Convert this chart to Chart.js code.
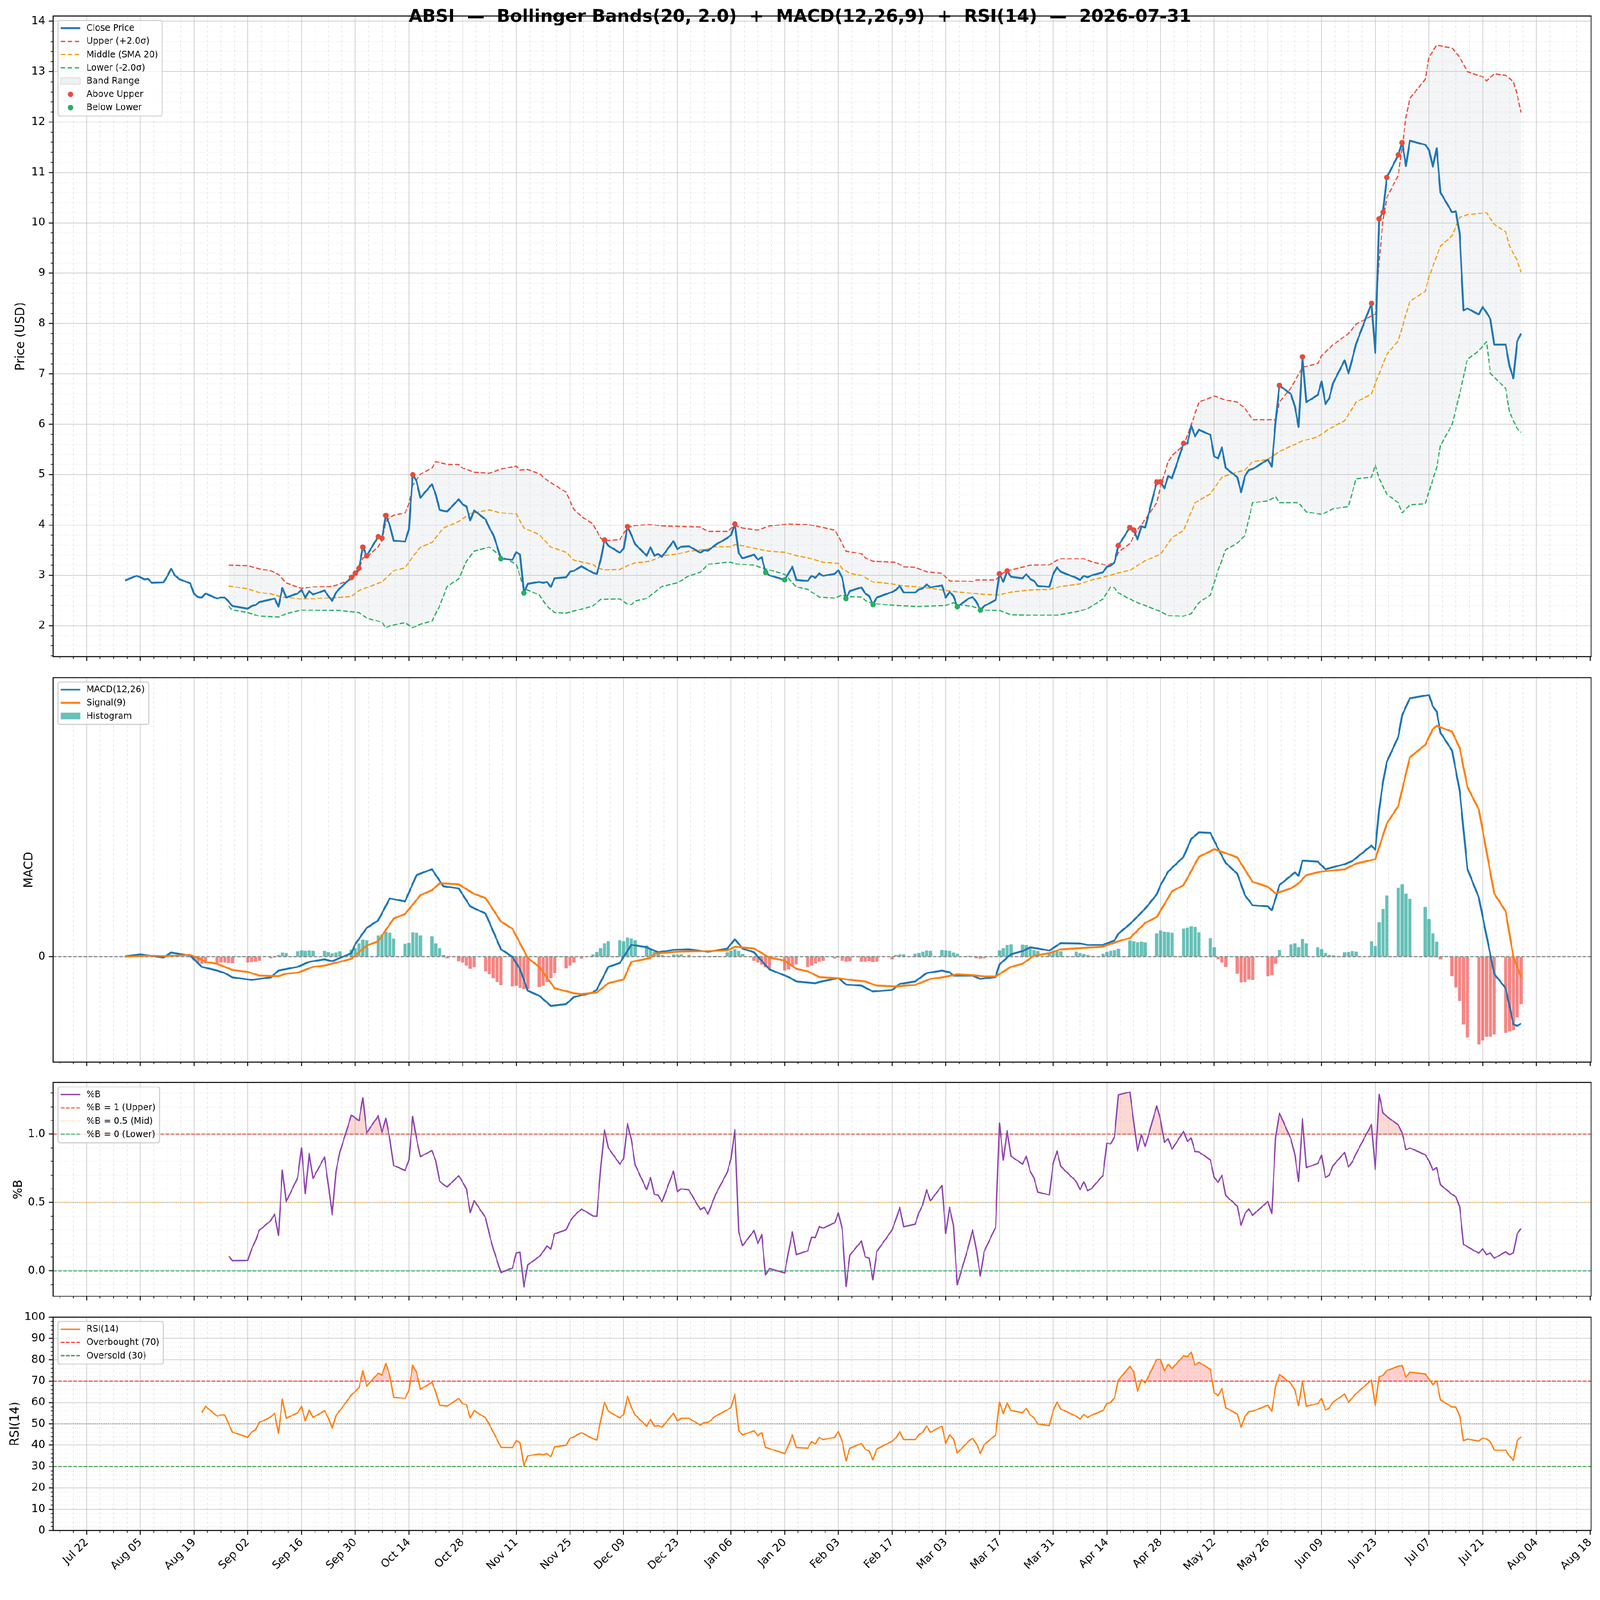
<!DOCTYPE html>
<html lang="en">
<head>
<meta charset="utf-8">
<title>ABSI - Bollinger Bands + MACD + RSI</title>
<script src="https://cdn.jsdelivr.net/npm/chart.js@4.4.1/dist/chart.umd.min.js"></script>
<style>
  html, body { margin: 0; padding: 0; background: #fff; overflow: hidden; }
  #page { position: relative; width: 4378px; height: 4322px; overflow: hidden; background: #fff; transform-origin: 0 0; }
  #page canvas { position: absolute; left: 0; }
</style>
</head>
<body>
<div id="page">
  <canvas id="priceChart" width="4378" height="1817" style="top:0px"></canvas>
  <canvas id="macdChart" width="4378" height="1109" style="top:1817px"></canvas>
  <canvas id="pctbChart" width="4378" height="641" style="top:2926px"></canvas>
  <canvas id="rsiChart" width="4378" height="755" style="top:3567px"></canvas>
</div>
<script>
// ---- data ----
const TITLE = "ABSI  \u2014  Bollinger Bands(20, 2.0)  +  MACD(12,26,9)  +  RSI(14)  \u2014  2026-07-31";

const MARKET_HOLIDAYS = ["2025-09-01", "2025-11-27", "2025-12-25", "2026-01-01", "2026-01-19",
  "2026-02-16", "2026-04-03", "2026-05-25", "2026-06-19", "2026-07-03"];

// daily closes, one per trading day from 2025-08-01 to 2026-07-31
const closePrices = [
  2.90, 2.99, 2.96, 2.92, 2.93, 2.85, 2.86, 2.98, 3.13, 3.00, 2.93, 2.84, 2.63, 2.57, 2.56, 2.64, 2.54, 2.56, 2.56, 2.48, 2.39, // Aug
  2.34, 2.39, 2.41, 2.47, 2.52, 2.54, 2.38, 2.75, 2.56, 2.64, 2.71, 2.56, 2.69, 2.62, 2.70, 2.59, 2.49, 2.66, 2.74, 2.96, 3.04, // Sep
  3.14, 3.56, 3.39, 3.77, 3.74, 4.19, 4.00, 3.69, 3.67, 3.91, 5.00, 4.87, 4.54, 4.81, 4.61, 4.30, 4.28, 4.27, 4.51, 4.41, 4.37, 4.09, 4.29, // Oct
  4.11, 3.94, 3.81, 3.58, 3.33, 3.31, 3.46, 3.41, 2.65, 2.83, 2.87, 2.85, 2.87, 2.77, 2.94, 2.96, 3.07, 3.09, 3.18, // Nov
  3.05, 3.03, 3.30, 3.70, 3.59, 3.45, 3.53, 3.97, 3.80, 3.62, 3.39, 3.56, 3.39, 3.42, 3.37, 3.68, 3.52, 3.57, 3.58, 3.45, 3.50, 3.49, // Dec
  3.61, 3.74, 3.80, 4.02, 3.44, 3.34, 3.41, 3.31, 3.36, 3.06, 3.00, 2.91, 3.04, 3.17, 2.91, 2.89, 2.99, 2.95, 3.04, 2.99, // Jan
  3.03, 3.10, 2.95, 2.54, 2.69, 2.76, 2.64, 2.59, 2.42, 2.56, 2.67, 2.71, 2.79, 2.66, 2.66, 2.72, 2.74, 2.82, 2.76, // Feb
  2.80, 2.56, 2.67, 2.59, 2.38, 2.54, 2.57, 2.47, 2.31, 2.39, 2.51, 3.03, 2.87, 3.09, 2.97, 2.94, 3.02, 2.93, 2.89, 2.79, 2.77, 3.02, // Mar
  3.16, 3.07, 2.95, 2.91, 2.99, 2.96, 3.00, 3.06, 3.17, 3.19, 3.26, 3.59, 3.95, 3.90, 3.71, 3.97, 3.95, 4.85, 4.86, 4.73, 4.97, // Apr
  4.93, 5.62, 5.62, 5.97, 5.76, 5.89, 5.79, 5.36, 5.32, 5.54, 5.13, 4.95, 4.65, 4.97, 5.09, 5.11, 5.30, 5.16, 6.05, 6.77, // May
  6.60, 6.36, 5.95, 7.34, 6.44, 6.58, 6.85, 6.40, 6.52, 6.82, 7.27, 7.01, 7.30, 7.60, 8.40, 7.42, 10.08, 10.21, 10.90, 11.35, 11.59, // Jun
  11.13, 11.63, 11.55, 11.45, 11.11, 11.48, 10.60, 10.21, 10.23, 9.78, 8.26, 8.30, 8.18, 8.33, 8.22, 8.09, 7.58, 7.58, 7.15, 6.91, 7.65, 7.80 // Jul
];

// band lines, read at their turning points ("MM-DD"; Aug-Dec = 2025, Jan-Jul = 2026)
const upperDates = ["08-28","09-02","09-05","09-08","09-10","09-12","09-16","09-19","09-24","09-26","09-29","09-30","10-01","10-02","10-03","10-06","10-07","10-08","10-09","10-10","10-13","10-14","10-15","10-17","10-20","10-21","10-24","10-27","10-28","10-31","11-04","11-07","11-11","11-12","11-14","11-17","11-19","11-24","11-26","11-28","12-01","12-03","12-04","12-08","12-10","12-12","12-16","12-19","12-29","12-31","01-05","01-07","01-09","01-13","01-16","01-21","01-26","01-30","02-02","02-03","02-05","02-09","02-10","02-12","02-18","02-20","02-23","02-26","03-02","03-04","03-10","03-11","03-16","03-17","03-18","03-19","03-20","03-25","03-30","04-01","04-02","04-08","04-10","04-14","04-16","04-17","04-20","04-22","04-24","04-27","04-28","04-30","05-01","05-04","05-06","05-08","05-12","05-15","05-18","05-20","05-22","05-28","05-29","06-01","06-04","06-08","06-09","06-12","06-16","06-18","06-23","06-24","06-25","06-26","06-29","06-30","07-01","07-02","07-06","07-07","07-09","07-13","07-15","07-17","07-21","07-22","07-24","07-27","07-29","07-30","07-31"];
const upperVals = [3.20,3.19,3.13,3.09,3.02,2.85,2.74,2.77,2.78,2.83,2.92,3.00,3.10,3.35,3.36,3.57,3.70,4.06,4.15,4.19,4.24,4.42,4.79,5.01,5.13,5.26,5.20,5.20,5.13,5.05,5.03,5.11,5.17,5.09,5.10,5.02,4.89,4.65,4.31,4.17,4.02,3.74,3.69,3.71,3.95,3.99,4.01,3.98,3.96,3.87,3.87,3.99,3.94,3.90,3.98,4.02,4.01,3.95,3.90,3.78,3.48,3.43,3.35,3.28,3.26,3.17,3.16,3.07,3.04,2.89,2.88,2.91,2.91,2.98,3.05,3.07,3.11,3.20,3.21,3.30,3.33,3.33,3.27,3.20,3.26,3.46,3.63,3.91,4.11,4.44,4.77,5.26,5.38,5.58,5.99,6.44,6.56,6.48,6.44,6.32,6.09,6.09,6.44,6.72,7.13,7.21,7.36,7.58,7.80,7.99,8.19,9.25,10.05,10.50,10.95,11.50,12.10,12.47,12.85,13.29,13.53,13.47,13.29,13.00,12.90,12.82,12.96,12.93,12.80,12.55,12.19];

const middleDates = ["08-28","09-02","09-05","09-08","09-11","09-16","09-23","09-29","10-01","10-07","10-10","10-13","10-15","10-17","10-20","10-23","10-27","10-30","11-04","11-07","11-11","11-13","11-17","11-20","11-24","11-26","12-01","12-02","12-04","12-08","12-10","12-12","12-16","12-19","12-23","12-26","12-31","01-02","01-06","01-07","01-09","01-13","01-16","01-20","01-23","01-26","01-30","02-03","02-04","02-06","02-09","02-12","02-17","02-19","02-24","02-27","03-04","03-09","03-13","03-17","03-20","03-25","03-30","04-02","04-07","04-10","04-13","04-16","04-20","04-24","04-28","05-01","05-04","05-07","05-11","05-14","05-18","05-20","05-22","05-26","05-29","06-04","06-08","06-11","06-15","06-18","06-22","06-23","06-26","06-29","07-02","07-06","07-07","07-10","07-13","07-15","07-17","07-22","07-24","07-27","07-28","07-30","07-31"];
const middleVals = [2.79,2.73,2.66,2.63,2.57,2.53,2.55,2.58,2.70,2.87,3.09,3.15,3.37,3.56,3.65,3.94,4.07,4.23,4.30,4.24,4.22,3.94,3.81,3.56,3.46,3.30,3.22,3.15,3.11,3.12,3.19,3.25,3.28,3.39,3.42,3.48,3.52,3.57,3.57,3.61,3.59,3.52,3.48,3.46,3.39,3.35,3.26,3.24,3.13,3.04,3.00,2.87,2.83,2.80,2.77,2.74,2.69,2.65,2.62,2.61,2.67,2.71,2.72,2.78,2.83,2.91,2.96,3.03,3.10,3.29,3.42,3.75,3.89,4.44,4.62,4.95,5.05,5.09,5.26,5.30,5.46,5.67,5.75,5.91,6.07,6.44,6.60,6.81,7.39,7.66,8.44,8.64,8.93,9.54,9.74,10.11,10.16,10.20,9.97,9.82,9.54,9.25,9.02];

const lowerDates = ["08-28","08-29","09-02","09-05","09-10","09-12","09-16","09-26","10-01","10-03","10-07","10-08","10-09","10-13","10-15","10-17","10-20","10-22","10-24","10-27","10-29","10-31","11-04","11-07","11-11","11-13","11-17","11-19","11-21","11-24","11-28","12-01","12-03","12-08","12-10","12-11","12-12","12-15","12-19","12-23","12-26","12-29","12-31","01-05","01-06","01-07","01-12","01-14","01-20","01-23","01-26","01-29","02-02","02-04","02-05","02-09","02-10","02-12","02-18","02-24","03-03","03-05","03-06","03-10","03-13","03-17","03-20","03-25","04-01","04-07","04-09","04-13","04-14","04-15","04-16","04-17","04-21","04-24","04-28","04-30","05-04","05-06","05-08","05-11","05-13","05-15","05-18","05-20","05-22","05-26","05-28","05-29","06-03","06-05","06-09","06-12","06-16","06-18","06-22","06-23","06-24","06-26","06-29","06-30","07-02","07-06","07-09","07-10","07-13","07-15","07-17","07-20","07-22","07-23","07-27","07-28","07-30","07-31"];
const lowerVals = [2.39,2.31,2.26,2.19,2.17,2.24,2.31,2.30,2.26,2.15,2.07,1.96,2.00,2.06,1.96,2.03,2.09,2.39,2.78,2.93,3.28,3.48,3.56,3.38,3.22,2.74,2.61,2.39,2.26,2.25,2.33,2.39,2.52,2.53,2.43,2.42,2.49,2.54,2.78,2.85,2.99,3.06,3.22,3.26,3.26,3.23,3.20,3.15,3.02,2.77,2.72,2.57,2.55,2.61,2.58,2.57,2.50,2.44,2.40,2.38,2.40,2.46,2.42,2.38,2.31,2.30,2.22,2.21,2.21,2.29,2.34,2.53,2.65,2.77,2.75,2.65,2.49,2.40,2.28,2.20,2.19,2.24,2.46,2.61,3.10,3.51,3.64,3.79,4.44,4.48,4.56,4.44,4.44,4.26,4.21,4.32,4.37,4.92,4.95,5.19,4.92,4.61,4.44,4.24,4.40,4.42,5.14,5.58,5.99,6.60,7.29,7.46,7.64,7.01,6.71,6.24,5.91,5.84];

const aboveUpperDates = ["09-29","09-30","10-01","10-02","10-03","10-06","10-07","10-08","10-15","12-04","12-10","01-07","03-17","03-19","04-17","04-20","04-21","04-27","04-28","05-04","05-29","06-04","06-22","06-24","06-25","06-26","06-29","06-30"];
const belowLowerDates = ["11-07","11-13","01-15","01-20","02-05","02-12","03-06","03-12"];

// MACD(12,26) and Signal(9), read at turning points
const macdDates = ["08-01","08-05","08-11","08-13","08-18","08-21","08-25","08-27","08-29","09-03","09-08","09-10","09-15","09-18","09-22","09-24","09-29","09-30","10-03","10-06","10-09","10-13","10-16","10-20","10-23","10-27","10-30","11-03","11-07","11-10","11-12","11-14","11-17","11-20","11-24","11-26","12-01","12-02","12-05","12-08","12-11","12-15","12-18","12-22","12-26","12-31","01-05","01-07","01-09","01-12","01-16","01-21","01-23","01-28","01-29","02-03","02-05","02-09","02-12","02-17","02-19","02-23","02-26","03-02","03-04","03-05","03-10","03-12","03-16","03-17","03-20","03-23","03-25","03-27","03-30","04-02","04-07","04-09","04-13","04-16","04-17","04-20","04-22","04-24","04-27","04-28","04-30","05-04","05-06","05-08","05-11","05-13","05-15","05-18","05-20","05-22","05-26","05-27","05-28","05-29","06-02","06-03","06-04","06-08","06-10","06-15","06-17","06-22","06-23","06-24","06-25","06-26","06-29","06-30","07-02","07-07","07-08","07-09","07-10","07-13","07-15","07-17","07-20","07-24","07-27","07-29","07-30","07-31"];
const macdVals = [0.003,0.013,-0.004,0.022,0.006,-0.052,-0.071,-0.084,-0.106,-0.119,-0.106,-0.071,-0.052,-0.026,-0.013,-0.023,0.019,0.065,0.149,0.188,0.301,0.286,0.422,0.452,0.364,0.353,0.260,0.223,0.039,0.000,-0.065,-0.175,-0.201,-0.253,-0.244,-0.208,-0.184,-0.169,-0.052,-0.032,0.062,0.049,0.023,0.036,0.039,0.026,0.042,0.091,0.043,0.023,-0.065,-0.104,-0.127,-0.136,-0.130,-0.110,-0.143,-0.149,-0.179,-0.171,-0.140,-0.127,-0.084,-0.071,-0.080,-0.097,-0.097,-0.114,-0.104,-0.039,0.013,0.029,0.049,0.043,0.032,0.071,0.069,0.061,0.062,0.084,0.119,0.169,0.208,0.249,0.322,0.370,0.440,0.516,0.608,0.642,0.639,0.558,0.484,0.429,0.318,0.266,0.260,0.240,0.300,0.370,0.435,0.418,0.496,0.491,0.452,0.478,0.494,0.574,0.552,0.760,0.900,1.006,1.136,1.247,1.334,1.351,1.292,1.266,1.156,1.065,0.857,0.455,0.305,-0.088,-0.162,-0.348,-0.357,-0.344];

const signalDates = ["08-01","08-07","08-12","08-18","08-20","08-22","08-25","08-29","09-02","09-05","09-10","09-12","09-15","09-19","09-22","09-26","09-29","10-03","10-06","10-10","10-13","10-17","10-20","10-22","10-27","10-31","11-03","11-07","11-10","11-14","11-17","11-21","11-26","11-28","12-02","12-05","12-09","12-11","12-16","12-17","12-23","12-29","01-05","01-07","01-12","01-16","01-20","01-23","01-26","01-29","02-03","02-06","02-10","02-13","02-18","02-23","02-27","03-02","03-06","03-10","03-13","03-16","03-20","03-23","03-26","03-30","04-02","04-07","04-13","04-17","04-20","04-24","04-27","05-01","05-04","05-08","05-12","05-15","05-18","05-22","05-26","05-28","06-01","06-03","06-05","06-09","06-15","06-18","06-23","06-26","06-29","07-02","07-06","07-08","07-09","07-13","07-15","07-17","07-20","07-24","07-27","07-29","07-31"];
const signalVals = [0.000,0.006,0.004,0.010,-0.006,-0.026,-0.036,-0.068,-0.078,-0.097,-0.100,-0.087,-0.082,-0.052,-0.045,-0.026,-0.010,0.058,0.080,0.197,0.221,0.318,0.344,0.379,0.374,0.325,0.303,0.182,0.145,-0.006,-0.052,-0.162,-0.188,-0.192,-0.184,-0.136,-0.117,-0.026,-0.006,0.016,0.026,0.029,0.032,0.052,0.043,-0.004,-0.019,-0.062,-0.075,-0.104,-0.110,-0.119,-0.127,-0.149,-0.153,-0.145,-0.114,-0.106,-0.091,-0.095,-0.101,-0.101,-0.052,-0.036,0.006,0.019,0.039,0.045,0.052,0.080,0.097,0.175,0.205,0.338,0.370,0.516,0.555,0.535,0.513,0.387,0.361,0.327,0.353,0.379,0.422,0.440,0.452,0.481,0.504,0.688,0.779,1.029,1.094,1.175,1.192,1.162,1.078,0.877,0.760,0.327,0.234,0.000,-0.104];

// MACD histogram, one bar per trading day
const macdHist = [
  0.000, 0.004, 0.006, 0.004, 0.002, -0.002, -0.004, 0.006, 0.012, 0.008, 0.004, -0.004, -0.018, -0.030, -0.036, -0.034, -0.032, -0.030, -0.030, -0.032, -0.034, // Aug
  -0.030, -0.028, -0.024, -0.020, -0.008, -0.004, 0.010, 0.022, 0.020, 0.028, 0.032, 0.030, 0.032, 0.030, 0.030, 0.024, 0.018, 0.022, 0.028, 0.038, 0.045, // Sep
  0.070, 0.088, 0.085, 0.110, 0.115, 0.130, 0.125, 0.095, 0.068, 0.072, 0.127, 0.125, 0.110, 0.106, 0.070, 0.045, 0.010, -0.008, -0.022, -0.030, -0.045, -0.062, -0.055, // Oct
  -0.075, -0.090, -0.110, -0.130, -0.147, -0.153, -0.150, -0.160, -0.166, -0.165, -0.156, -0.150, -0.130, -0.110, -0.084, -0.060, -0.045, -0.030, -0.010, // Nov
  0.013, 0.025, 0.045, 0.070, 0.080, 0.085, 0.080, 0.100, 0.095, 0.085, 0.058, 0.040, 0.026, 0.015, 0.010, 0.013, 0.012, 0.013, 0.010, 0.005, 0.002, -0.002, // Dec
  0.004, 0.023, 0.030, 0.040, 0.030, 0.015, -0.020, -0.030, -0.040, -0.055, -0.062, -0.071, -0.065, -0.050, -0.039, -0.052, -0.045, -0.035, -0.026, -0.020, // Jan
  -0.009, -0.004, -0.020, -0.024, -0.022, -0.025, -0.025, -0.022, -0.028, -0.025, -0.013, 0.010, 0.013, 0.013, 0.016, 0.020, 0.026, 0.032, 0.030, // Feb
  0.036, 0.034, 0.030, 0.022, 0.016, 0.004, -0.002, -0.008, -0.010, -0.008, -0.002, 0.032, 0.045, 0.060, 0.065, 0.062, 0.060, 0.045, 0.035, 0.029, 0.020, 0.026, // Mar
  0.029, 0.028, 0.026, 0.020, 0.015, 0.010, 0.006, 0.016, 0.025, 0.030, 0.035, 0.042, 0.084, 0.080, 0.075, 0.078, 0.075, 0.120, 0.136, 0.130, 0.128, // Apr
  0.125, 0.145, 0.150, 0.158, 0.155, 0.127, 0.097, 0.049, -0.013, -0.030, -0.052, -0.088, -0.132, -0.130, -0.118, -0.120, -0.100, -0.095, -0.036, 0.036, // May
  0.065, 0.070, 0.050, 0.093, 0.070, 0.049, 0.040, 0.020, 0.010, 0.008, 0.023, 0.025, 0.029, 0.026, 0.080, 0.055, 0.178, 0.247, 0.316, 0.357, 0.374, // Jun
  0.327, 0.300, 0.257, 0.195, 0.120, 0.078, -0.013, -0.100, -0.158, -0.227, -0.350, -0.416, -0.452, -0.431, -0.413, -0.413, -0.400, -0.392, -0.385, -0.380, -0.312, -0.244 // Jul
];

// %B, one per trading day (starts with the 20th day)
const pctB = [
  null, null, null, null, null, null, null, null, null, null,
  null, null, null, null, null, null, null, null, null,
  0.108, 0.075, // Aug 28-29
  0.077, 0.16, 0.22, 0.297, 0.368, 0.416, 0.259, 0.737, 0.505, 0.682, 0.90, 0.566, 0.86, 0.676, 0.832, 0.63, 0.41, 0.73, 0.868, 1.139, 1.12, // Sep
  1.098, 1.267, 1.01, 1.134, 1.013, 1.116, 0.97, 0.771, 0.735, 0.809, 1.129, 0.965, 0.835, 0.88, 0.807, 0.658, 0.63, 0.615, 0.696, 0.65, 0.60, 0.426, 0.515, // Oct
  0.389, 0.266, 0.162, 0.075, -0.012, 0.02, 0.131, 0.136, -0.117, 0.044, 0.105, 0.14, 0.182, 0.16, 0.272, 0.30, 0.361, 0.40, 0.453, // Nov
  0.402, 0.40, 0.745, 1.032, 0.90, 0.781, 0.822, 1.078, 0.96, 0.776, 0.594, 0.684, 0.559, 0.553, 0.505, 0.73, 0.579, 0.60, 0.592, 0.448, 0.464, 0.416, // Dec
  0.561, 0.72, 0.82, 1.034, 0.285, 0.184, 0.295, 0.20, 0.264, -0.03, 0.016, -0.014, 0.14, 0.285, 0.119, 0.146, 0.246, 0.244, 0.325, 0.313, // Jan
  0.351, 0.423, 0.305, -0.115, 0.116, 0.218, 0.102, 0.092, -0.066, 0.141, 0.30, 0.377, 0.464, 0.323, 0.341, 0.426, 0.484, 0.592, 0.512, // Feb
  0.624, 0.274, 0.464, 0.331, -0.102, 0.187, 0.30, 0.151, -0.038, 0.141, 0.32, 1.081, 0.809, 1.027, 0.839, 0.781, 0.837, 0.73, 0.679, 0.576, 0.556, 0.784, // Mar
  0.876, 0.764, 0.655, 0.594, 0.651, 0.586, 0.602, 0.699, 0.935, 0.929, 0.981, 1.288, 1.308, 1.093, 0.876, 0.996, 0.911, 1.206, 1.105, 0.942, 0.965, // Apr
  0.89, 1.021, 0.948, 0.97, 0.873, 0.87, 0.812, 0.682, 0.648, 0.699, 0.551, 0.474, 0.334, 0.418, 0.453, 0.407, 0.508, 0.42, 0.975, 1.155, // May
  0.965, 0.853, 0.655, 1.114, 0.755, 0.786, 0.845, 0.682, 0.702, 0.771, 0.866, 0.76, 0.798, 0.858, 1.071, 0.743, 1.29, 1.157, 1.129, 1.068, 1.009, // Jun
  0.886, 0.899, 0.85, 0.805, 0.737, 0.755, 0.63, 0.559, 0.542, 0.469, 0.194, 0.177, 0.129, 0.162, 0.119, 0.131, 0.092, 0.139, 0.119, 0.131, 0.272, 0.31 // Jul
];

// RSI(14), one per trading day (starts with the 15th day)
const rsi14 = [
  null, null, null, null, null, null, null, null, null, null, null, null, null, null,
  55.2, 58.2, 53.6, 54.2, 54.2, 50.0, 46.1, // Aug 21-29
  43.7, 46.2, 47.2, 50.6, 53.2, 55.0, 45.6, 61.5, 52.6, 55.2, 58.1, 51.4, 56.6, 53.0, 56.1, 52.8, 47.9, 53.9, 56.2, 63.5, 65.2, // Sep
  66.9, 74.9, 67.7, 73.7, 72.9, 78.3, 72.9, 62.5, 61.9, 65.7, 77.4, 74.1, 66.2, 69.4, 65.0, 58.7, 58.5, 58.3, 61.9, 59.4, 59.0, 52.8, 56.2, // Oct
  52.8, 49.6, 46.2, 42.6, 39.0, 38.9, 42.1, 41.2, 30.4, 35.0, 35.9, 35.6, 36.1, 34.6, 39.2, 39.9, 43.2, 43.9, 45.9, // Nov
  43.0, 42.4, 51.2, 60.2, 55.9, 52.8, 54.4, 62.9, 57.7, 54.2, 48.9, 52.1, 48.9, 49.2, 48.4, 55.0, 51.4, 52.6, 52.6, 49.4, 50.6, 50.6, // Dec
  53.7, 56.5, 57.7, 63.9, 46.9, 44.8, 46.8, 44.4, 45.9, 39.0, 38.4, 36.1, 40.0, 44.8, 38.9, 38.6, 41.7, 40.6, 43.7, 42.6, // Jan
  43.7, 46.4, 41.6, 32.6, 38.6, 40.8, 38.1, 37.2, 33.2, 38.2, 41.9, 43.4, 46.4, 42.6, 42.6, 44.9, 46.1, 49.0, 46.1, // Feb
  48.9, 40.9, 44.9, 42.9, 36.4, 41.9, 43.2, 40.6, 36.2, 40.2, 44.8, 60.2, 54.8, 59.9, 56.2, 55.2, 57.2, 54.2, 52.8, 49.9, 49.2, 56.2, // Mar
  60.2, 56.9, 53.6, 52.2, 54.4, 52.9, 54.1, 56.2, 59.5, 60.1, 62.2, 70.5, 76.9, 74.5, 65.2, 70.7, 69.2, 80.2, 80.2, 74.9, 77.9, // Apr
  75.9, 81.9, 81.5, 83.6, 77.5, 78.9, 75.5, 64.5, 63.2, 66.5, 57.5, 54.6, 48.4, 53.4, 55.7, 55.9, 58.7, 55.9, 67.5, 73.2, // May
  68.9, 65.9, 58.5, 70.2, 58.2, 59.5, 61.9, 56.4, 57.5, 60.2, 63.9, 60.1, 62.2, 64.2, 70.5, 58.5, 72.1, 72.7, 75.0, 77.0, 77.2, // Jun
  71.9, 74.2, 73.4, 71.0, 68.3, 70.2, 61.2, 57.9, 57.9, 53.7, 42.1, 42.8, 41.9, 43.4, 42.9, 41.7, 37.7, 37.7, 34.9, 32.9, 42.1, 43.9 // Jul
];

// ---- axis limits ----
const X_MIN = -8.8, X_MAX = 392.3;          // days from Jul 22, 2025
const PRICE_MIN = 1.384, PRICE_MAX = 14.105;
const MACD_MIN = -0.543, MACD_MAX = 1.441;
const PCTB_MIN = -0.186, PCTB_MAX = 1.378;

// ---- fit the 4378x4322 page into whatever viewport we get ----
const PAGE_W = 4378, PAGE_H = 4322;
(function fitPage() {
  const s = Math.min(window.innerWidth / PAGE_W, window.innerHeight / PAGE_H);
  if (s > 0 && Math.abs(s - 1) > 0.001) {
    document.getElementById("page").style.transform = "scale(" + s + ")";
  }
})();

// ---- helpers ----
const DAY_MS = 86400000;
const X_ORIGIN = Date.UTC(2025, 6, 22);
const MONTHS = ["Jan","Feb","Mar","Apr","May","Jun","Jul","Aug","Sep","Oct","Nov","Dec"];
const FONT = '"DejaVu Sans", sans-serif';

function dayOf(md) {
  const [m, d] = md.split("-").map(Number);
  return (Date.UTC(m >= 8 ? 2025 : 2026, m - 1, d) - X_ORIGIN) / DAY_MS;
}

function buildTradingDays() {
  const days = [];
  const end = Date.UTC(2026, 6, 31);
  for (let t = Date.UTC(2025, 7, 1); t <= end; t += DAY_MS) {
    const d = new Date(t);
    const wd = d.getUTCDay();
    if (wd === 0 || wd === 6) continue;
    if (MARKET_HOLIDAYS.includes(d.toISOString().slice(0, 10))) continue;
    days.push((t - X_ORIGIN) / DAY_MS);
  }
  return days;
}
const tradingDays = buildTradingDays();

const daily = vals => tradingDays.map((x, i) => ({ x, y: vals[i] ?? null }));
const pts = (dates, vals) => dates.map((d, i) => ({ x: dayOf(d), y: vals[i] }));
const onClose = dates => dates.map(d => {
  const x = dayOf(d);
  return { x, y: closePrices[tradingDays.indexOf(x)] };
});
const hline = y => [{ x: X_MIN, y }, { x: X_MAX, y }];
const isMult = (v, step) => Math.abs(v / step - Math.round(v / step)) < 1e-6;

function fmtDate(v) {
  const d = new Date(X_ORIGIN + Math.round(v) * DAY_MS);
  return MONTHS[d.getUTCMonth()] + " " + String(d.getUTCDate()).padStart(2, "0");
}

const GRID_MAJOR = "rgba(176,176,176,0.6)";
const GRID_MINOR = "rgba(176,176,176,0.38)";
const CLEAR = "rgba(0,0,0,0)";

function xScales(showLabels, height) {
  return {
    x: {
      type: "linear", position: "bottom", min: X_MIN, max: X_MAX, offset: false, weight: 1,
      ticks: {
        display: showLabels, stepSize: 14, includeBounds: false, autoSkip: false,
        minRotation: 45, maxRotation: 45, padding: 4, color: "#000",
        font: { family: FONT, size: 30 }, callback: v => fmtDate(v)
      },
      grid: { color: GRID_MAJOR, lineWidth: 2, offset: false, drawTicks: true,
              tickLength: 11, tickWidth: 2.4, tickColor: "#000" },
      border: { display: false },
      afterFit: ax => { ax.height = height; ax.paddingLeft = 0; ax.paddingRight = 0; }
    },
    xm: {
      type: "linear", position: "bottom", min: X_MIN, max: X_MAX, offset: false, weight: 0,
      ticks: { display: false, stepSize: 3.5, includeBounds: false },
      grid: {
        color: c => isMult(c.tick.value, 14) ? CLEAR : GRID_MINOR, lineWidth: 1.5, offset: false,
        drawTicks: true, tickLength: 6, tickWidth: 1.8,
        tickColor: c => isMult(c.tick.value, 14) ? CLEAR : "#000"
      },
      border: { display: false, dash: [7, 6] },
      afterFit: ax => { ax.height = 0; ax.paddingLeft = 0; ax.paddingRight = 0; }
    }
  };
}

function yScales(min, max, step, minorStep, fmt, onlyZero) {
  const s = {
    y: {
      type: "linear", position: "left", min, max, weight: 1,
      ticks: { stepSize: step, includeBounds: false, padding: 10, color: "#000",
               font: { family: FONT, size: 30 }, callback: fmt },
      grid: { color: GRID_MAJOR, lineWidth: 2, drawTicks: true, tickLength: 11, tickWidth: 2.4, tickColor: "#000" },
      border: { display: false },
      afterFit: ax => { ax.width = 145; ax.paddingTop = 0; ax.paddingBottom = 0; }
    }
  };
  if (onlyZero) s.y.afterBuildTicks = ax => { ax.ticks = [{ value: 0 }]; };
  if (minorStep) {
    s.ym = {
      type: "linear", position: "left", min, max, weight: 0,
      ticks: { display: false, stepSize: minorStep, includeBounds: false },
      grid: {
        color: c => isMult(c.tick.value, step) ? CLEAR : GRID_MINOR, lineWidth: 1.5,
        drawTicks: true, tickLength: 6, tickWidth: 1.8,
        tickColor: c => isMult(c.tick.value, step) ? CLEAR : "#000"
      },
      border: { display: false, dash: [2, 4] },
      afterFit: ax => { ax.width = 0; ax.paddingTop = 0; ax.paddingBottom = 0; }
    };
  }
  return s;
}

// matplotlib-like frame, y label, legend and title
function roundRectPath(ctx, x, y, w, h, r) {
  ctx.beginPath();
  ctx.moveTo(x + r, y);
  ctx.lineTo(x + w - r, y); ctx.quadraticCurveTo(x + w, y, x + w, y + r);
  ctx.lineTo(x + w, y + h - r); ctx.quadraticCurveTo(x + w, y + h, x + w - r, y + h);
  ctx.lineTo(x + r, y + h); ctx.quadraticCurveTo(x, y + h, x, y + h - r);
  ctx.lineTo(x, y + r); ctx.quadraticCurveTo(x, y, x + r, y);
  ctx.closePath();
}

function drawLegend(ctx, a, items) {
  const rowH = 36.2;
  const left = a.left + 13.5, top = a.top + 12;
  const textOff = 78;
  ctx.save();
  ctx.font = "24px " + FONT;
  let maxW = 0;
  items.forEach(it => { maxW = Math.max(maxW, ctx.measureText(it.label).width); });
  const w = textOff + maxW + 11;
  const h = 21 + (items.length - 1) * rowH + 23;
  roundRectPath(ctx, left, top, w, h, 6);
  ctx.fillStyle = "rgba(255,255,255,0.8)";
  ctx.fill();
  ctx.strokeStyle = "#cccccc";
  ctx.lineWidth = 2.6;
  ctx.stroke();
  items.forEach((it, i) => {
    const cy = top + 21 + i * rowH;
    const hx0 = left + 8, hx1 = left + 61;
    if (it.type === "line") {
      ctx.save();
      ctx.strokeStyle = it.color; ctx.lineWidth = it.width;
      ctx.setLineDash(it.dash || []);
      ctx.beginPath(); ctx.moveTo(hx0, cy); ctx.lineTo(hx1, cy); ctx.stroke();
      ctx.restore();
    } else if (it.type === "patch") {
      ctx.fillStyle = it.fill;
      ctx.fillRect(hx0, cy - 9, hx1 - hx0, 18);
      if (it.stroke) { ctx.strokeStyle = it.stroke; ctx.lineWidth = 2; ctx.strokeRect(hx0, cy - 9, hx1 - hx0, 18); }
    } else if (it.type === "marker") {
      ctx.fillStyle = it.color;
      ctx.beginPath(); ctx.arc((hx0 + hx1) / 2, cy, 7.5, 0, Math.PI * 2); ctx.fill();
    }
    ctx.fillStyle = "#000";
    ctx.textAlign = "left"; ctx.textBaseline = "middle";
    ctx.fillText(it.label, left + textOff, cy + 1);
  });
  ctx.restore();
}

const mplPlugin = {
  id: "mpl",
  afterDraw(chart, args, o) {
    const { ctx, chartArea: a } = chart;
    ctx.save();
    ctx.strokeStyle = "#000";
    ctx.lineWidth = 2.6;
    ctx.strokeRect(a.left, a.top, a.right - a.left, a.bottom - a.top);
    ctx.fillStyle = "#000";
    ctx.font = "33px " + FONT;
    ctx.translate(o.ylabelX, (a.top + a.bottom) / 2);
    ctx.rotate(-Math.PI / 2);
    ctx.textAlign = "center"; ctx.textBaseline = "middle";
    ctx.fillText(o.ylabel, 0, 0);
    ctx.restore();
    if (o.legend) drawLegend(ctx, a, o.legend);
    if (o.title) {
      ctx.save();
      ctx.fillStyle = "#000";
      ctx.font = "bold 48px " + FONT;
      ctx.textAlign = "center"; ctx.textBaseline = "alphabetic";
      ctx.fillText(o.title, chart.width / 2, 60);
      ctx.restore();
    }
  }
};

function options(padTop, xHeight, showX, yS, mpl) {
  return {
    responsive: false, devicePixelRatio: 1, animation: false, events: [],
    layout: { padding: { top: padTop, right: 24, bottom: 0, left: 0 } },
    scales: Object.assign({}, xScales(showX, xHeight), yS),
    elements: { point: { radius: 0 }, line: { tension: 0, borderJoinStyle: "round" } },
    plugins: {
      legend: { display: false }, tooltip: { enabled: false },
      filler: { drawTime: "beforeDatasetsDraw" },
      mpl
    }
  };
}

Chart.defaults.color = "#000";
Chart.defaults.font.family = FONT;

const RED = "#e74c3c", ORANGE = "#f39c12", GREEN = "#27ae60";
const BAND_FILL = "rgba(189,195,199,0.17)";
const HIST_UP = "rgba(38,166,154,0.7)", HIST_DN = "rgba(239,83,80,0.7)";
const BAND_DASH = [13, 6];

// ---- price + Bollinger Bands ----
new Chart(document.getElementById("priceChart"), {
  type: "line",
  data: {
    datasets: [
      { label: "Close Price", data: daily(closePrices), borderColor: "#1f77b4", borderWidth: 5, order: 1 },
      { label: "Upper (+2.0σ)", data: pts(upperDates, upperVals), borderColor: RED, borderWidth: 3.2,
        borderDash: BAND_DASH, fill: { target: 3 }, backgroundColor: BAND_FILL, order: 3 },
      { label: "Middle (SMA 20)", data: pts(middleDates, middleVals), borderColor: ORANGE, borderWidth: 3.2,
        borderDash: BAND_DASH, order: 3 },
      { label: "Lower (-2.0σ)", data: pts(lowerDates, lowerVals), borderColor: GREEN, borderWidth: 3.2,
        borderDash: BAND_DASH, order: 3 },
      { label: "Above Upper", data: onClose(aboveUpperDates), showLine: false, pointRadius: 7.5,
        pointBackgroundColor: RED, pointBorderWidth: 0, order: 0 },
      { label: "Below Lower", data: onClose(belowLowerDates), showLine: false, pointRadius: 7.5,
        pointBackgroundColor: GREEN, pointBorderWidth: 0, order: 0 }
    ]
  },
  options: options(44, 20, false, yScales(PRICE_MIN, PRICE_MAX, 1, 0.2, v => String(v)), {
    ylabel: "Price (USD)", ylabelX: 57, title: TITLE,
    legend: [
      { label: "Close Price", type: "line", color: "#1f77b4", width: 5 },
      { label: "Upper (+2.0σ)", type: "line", color: RED, width: 3.2, dash: [12, 7] },
      { label: "Middle (SMA 20)", type: "line", color: ORANGE, width: 3.2, dash: [12, 7] },
      { label: "Lower (-2.0σ)", type: "line", color: GREEN, width: 3.2, dash: [12, 7] },
      { label: "Band Range", type: "patch", fill: "rgba(189,195,199,0.25)", stroke: "rgba(170,175,180,0.35)" },
      { label: "Above Upper", type: "marker", color: RED },
      { label: "Below Lower", type: "marker", color: GREEN }
    ]
  }),
  plugins: [mplPlugin]
});

// ---- MACD ----
new Chart(document.getElementById("macdChart"), {
  type: "bar",
  data: {
    datasets: [
      { type: "bar", label: "Histogram", data: daily(macdHist),
        backgroundColor: c => (c.parsed && c.parsed.y >= 0) ? HIST_UP : HIST_DN,
        barPercentage: 0.85, categoryPercentage: 1, borderWidth: 0, order: 5 },
      { type: "line", label: "zero", data: hline(0), borderColor: "rgba(128,128,128,0.9)", borderWidth: 3,
        borderDash: [9, 5], pointRadius: 0, order: 4 },
      { type: "line", label: "MACD(12,26)", data: pts(macdDates, macdVals), borderColor: "#1f77b4",
        borderWidth: 5, pointRadius: 0, order: 2 },
      { type: "line", label: "Signal(9)", data: pts(signalDates, signalVals), borderColor: "#ff7f0e",
        borderWidth: 5, pointRadius: 0, order: 1 }
    ]
  },
  options: options(37, 20, false, yScales(MACD_MIN, MACD_MAX, 1, 0, v => String(v), true), {
    ylabel: "MACD", ylabelX: 80,
    legend: [
      { label: "MACD(12,26)", type: "line", color: "#1f77b4", width: 5 },
      { label: "Signal(9)", type: "line", color: "#ff7f0e", width: 5 },
      { label: "Histogram", type: "patch", fill: HIST_UP }
    ]
  }),
  plugins: [mplPlugin]
});

// ---- %B ----
new Chart(document.getElementById("pctbChart"), {
  type: "line",
  data: {
    datasets: [
      { label: "%B", data: daily(pctB), borderColor: "#8e44ad", borderWidth: 3.6, order: 0,
        fill: { target: { value: 1 }, above: "rgba(231,76,60,0.22)", below: CLEAR } },
      { label: "below0", data: daily(pctB), borderColor: CLEAR, borderWidth: 1, order: 6,
        fill: { target: { value: 0 }, above: CLEAR, below: "rgba(39,174,96,0.2)" } },
      { label: "%B = 1 (Upper)", data: hline(1), borderColor: "rgba(231,76,60,0.7)", borderWidth: 3.5, borderDash: [10, 4], order: 3 },
      { label: "%B = 0.5 (Mid)", data: hline(0.5), borderColor: "rgba(243,156,18,0.6)", borderWidth: 2.5, borderDash: [3, 3], order: 3 },
      { label: "%B = 0 (Lower)", data: hline(0), borderColor: "rgba(39,174,96,0.7)", borderWidth: 3.5, borderDash: [10, 4], order: 3 }
    ]
  },
  options: options(36, 20, false, yScales(PCTB_MIN, PCTB_MAX, 0.5, 0.1, v => v.toFixed(1)), {
    ylabel: "%B", ylabelX: 51,
    legend: [
      { label: "%B", type: "line", color: "#8e44ad", width: 3.6 },
      { label: "%B = 1 (Upper)", type: "line", color: "rgba(231,76,60,0.7)", width: 3.5, dash: [10, 4] },
      { label: "%B = 0.5 (Mid)", type: "line", color: "rgba(243,156,18,0.6)", width: 2.5, dash: [3, 3] },
      { label: "%B = 0 (Lower)", type: "line", color: "rgba(39,174,96,0.7)", width: 3.5, dash: [10, 4] }
    ]
  }),
  plugins: [mplPlugin]
});

// ---- RSI ----
new Chart(document.getElementById("rsiChart"), {
  type: "line",
  data: {
    datasets: [
      { label: "RSI(14)", data: daily(rsi14), borderColor: "#ff7f0e", borderWidth: 3.6, order: 0,
        fill: { target: { value: 70 }, above: "rgba(255,0,0,0.18)", below: CLEAR } },
      { label: "below30", data: daily(rsi14), borderColor: CLEAR, borderWidth: 1, order: 6,
        fill: { target: { value: 30 }, above: CLEAR, below: "rgba(0,128,0,0.18)" } },
      { label: "Overbought (70)", data: hline(70), borderColor: "rgba(255,0,0,0.75)", borderWidth: 3.5, borderDash: [10, 4], order: 3 },
      { label: "Oversold (30)", data: hline(30), borderColor: "rgba(0,128,0,0.75)", borderWidth: 3.5, borderDash: [10, 4], order: 3 },
      { label: "mid", data: hline(50), borderColor: "rgba(128,128,128,0.6)", borderWidth: 3, borderDash: [3, 3], order: 3 }
    ]
  },
  options: options(37, 134, true, yScales(0, 100, 10, 2, v => String(v)), {
    ylabel: "RSI(14)", ylabelX: 42,
    legend: [
      { label: "RSI(14)", type: "line", color: "#ff7f0e", width: 3.6 },
      { label: "Overbought (70)", type: "line", color: "rgba(255,0,0,0.75)", width: 3.5, dash: [10, 4] },
      { label: "Oversold (30)", type: "line", color: "rgba(0,128,0,0.75)", width: 3.5, dash: [10, 4] }
    ]
  }),
  plugins: [mplPlugin]
});
</script>
</body>
</html>
